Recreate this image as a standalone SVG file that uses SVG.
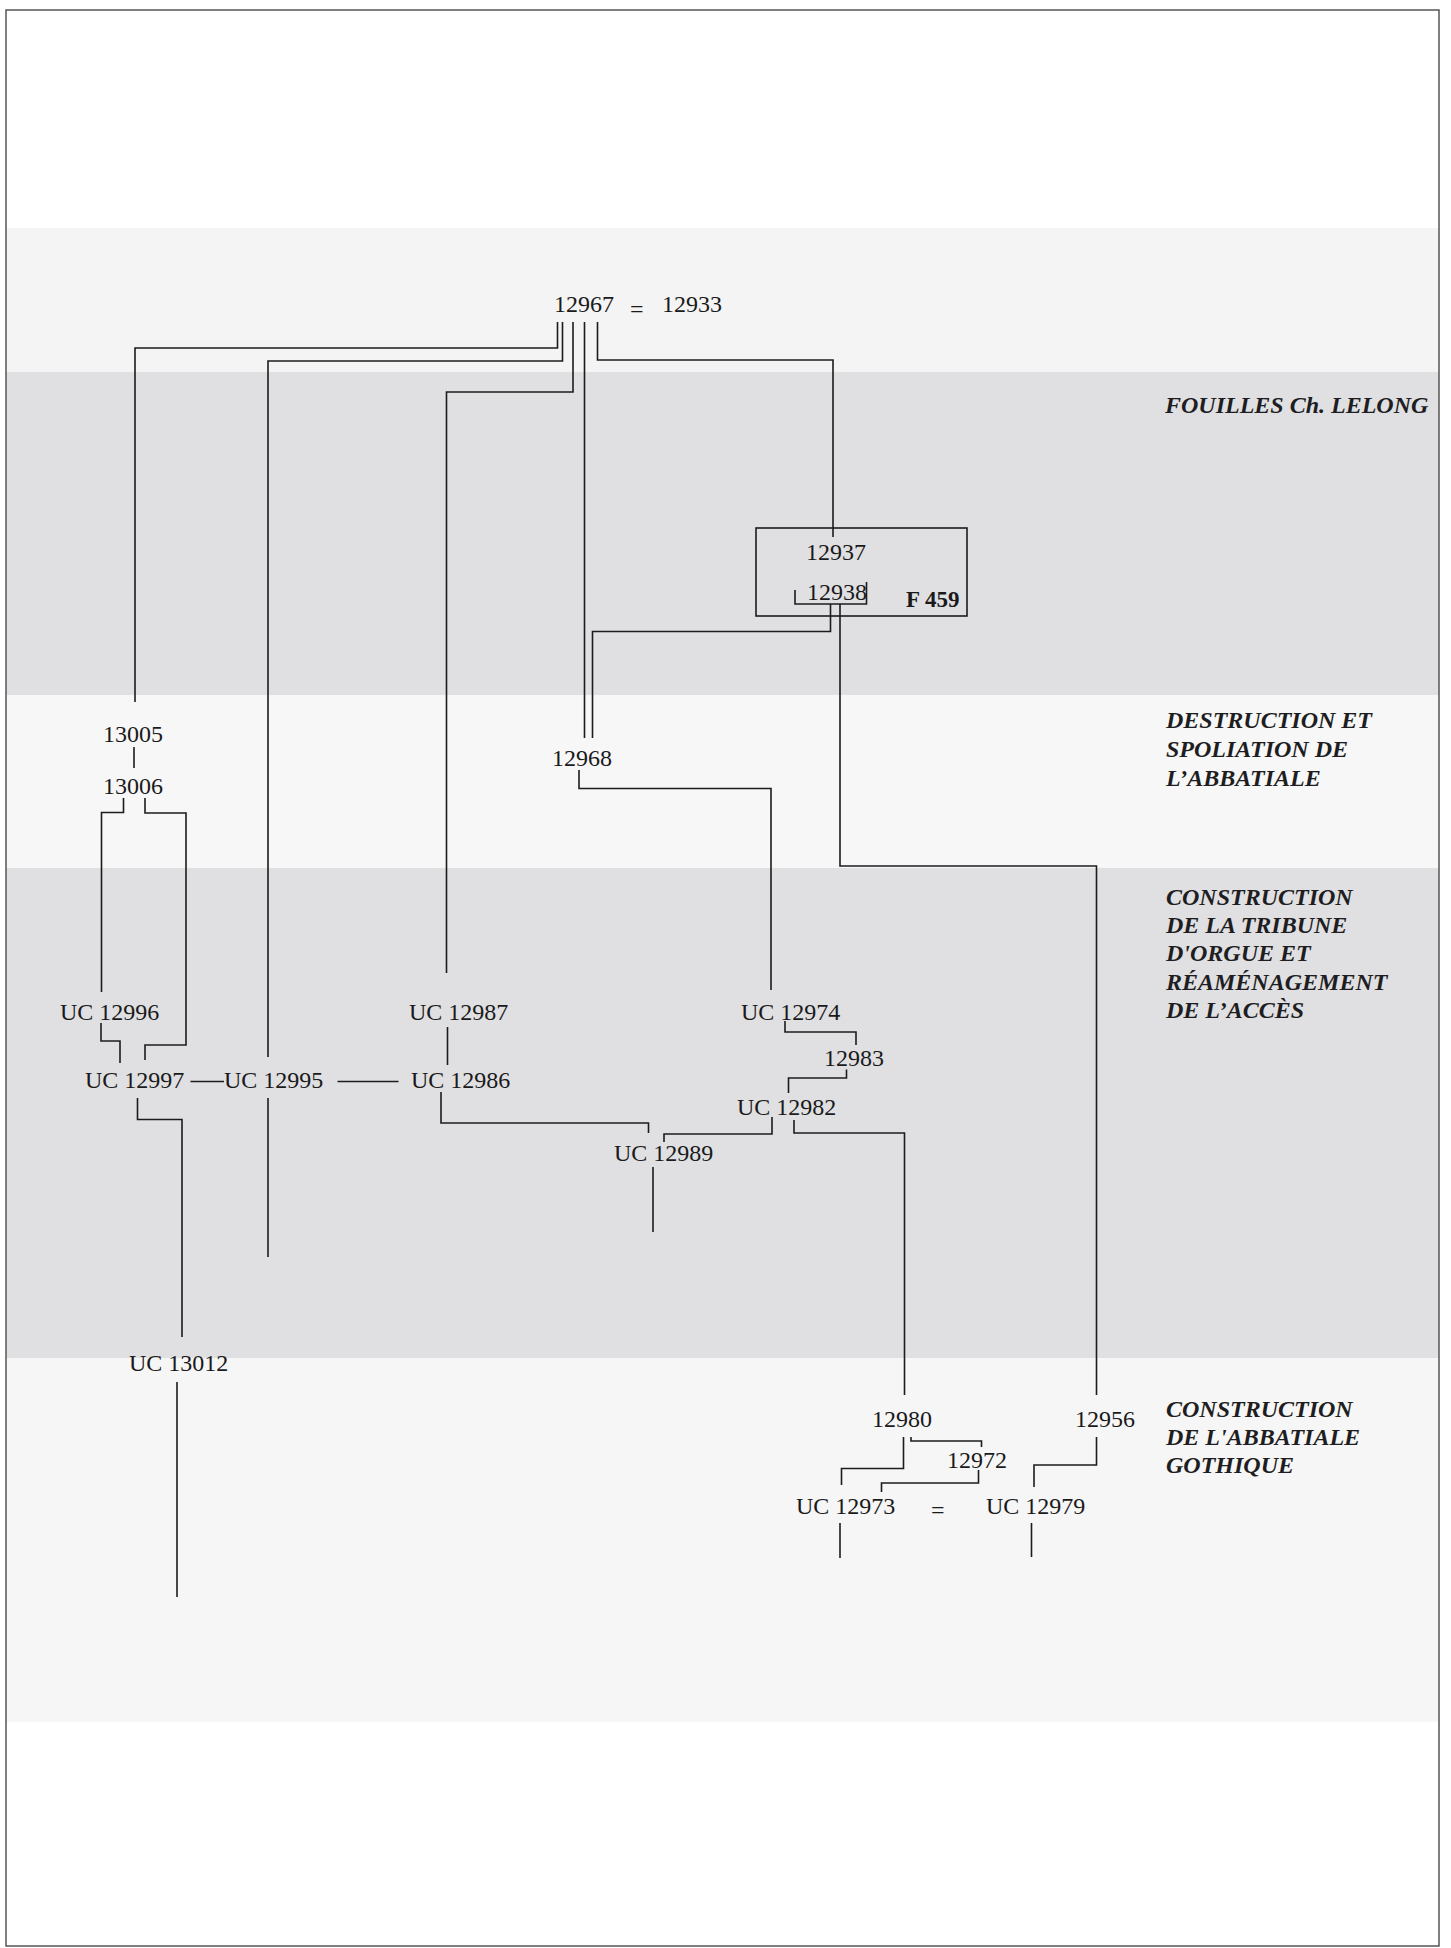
<svg xmlns="http://www.w3.org/2000/svg" width="1451" height="1948" viewBox="0 0 1451 1948">
<style>
.ln{fill:none;stroke:#1c1c1c;stroke-width:1.6}
.t{font-family:"Liberation Serif",serif;font-size:24px;fill:#1a1a1a}
.f{font-family:"Liberation Serif",serif;font-size:23px;font-weight:bold;fill:#1a1a1a}
.lbl{font-family:"Liberation Serif",serif;font-size:24px;font-style:italic;font-weight:bold;fill:#1e1e22}
.box{fill:none;stroke:#1c1c1c;stroke-width:1.6}
</style>
<rect x="0" y="0" width="1451" height="1948" fill="#ffffff"/>
<g id="bands">
<rect x="6" y="228" width="1433" height="144" fill="#f4f4f4"/>
<rect x="6" y="372" width="1433" height="323" fill="#e0e0e2"/>
<rect x="6" y="695" width="1433" height="173" fill="#f7f7f7"/>
<rect x="6" y="868" width="1433" height="490" fill="#e0e0e2"/>
<rect x="6" y="1358" width="1433" height="364" fill="#f6f6f6"/>
</g>
<rect x="6" y="10" width="1433" height="1936" fill="none" stroke="#555" stroke-width="1.5"/>
<g id="connectors">
<path class="ln" d="M557.5,322 V348 H135 V702"/>
<path class="ln" d="M562.5,322 V361 H268 V1057"/>
<path class="ln" d="M268,1098 V1257"/>
<path class="ln" d="M573,322 V392 H446.5 V973"/>
<path class="ln" d="M584.5,322 V738"/>
<path class="ln" d="M597.5,322 V360 H833 V537"/>
<path class="ln" d="M795,590 V604 H866.5 V582"/>
<path class="ln" d="M830.5,604 V631.5 H592.5 V738"/>
<path class="ln" d="M840,604 V866 H1096.5 V1395"/>
<path class="ln" d="M134,747 V768"/>
<path class="ln" d="M123.5,798 V812.5 H101.5 V992"/>
<path class="ln" d="M145,798 V813 H186 V1045 H145 V1060"/>
<path class="ln" d="M101,1023 V1041 H120 V1063"/>
<path class="ln" d="M190.5,1081.5 H224"/>
<path class="ln" d="M337.5,1081.5 H398.5"/>
<path class="ln" d="M447.5,1027 V1065"/>
<path class="ln" d="M137.5,1098 V1119.5 H182 V1337"/>
<path class="ln" d="M177,1382 V1597"/>
<path class="ln" d="M579,770 V788.5 H771 V990"/>
<path class="ln" d="M785,1021 V1032 H856 V1045"/>
<path class="ln" d="M846.5,1069.5 V1078 H788.5 V1093"/>
<path class="ln" d="M772,1117 V1134 H664 V1142"/>
<path class="ln" d="M441,1092 V1123 H648.5 V1133"/>
<path class="ln" d="M653,1167 V1232"/>
<path class="ln" d="M794,1120 V1133 H904.5 V1395"/>
<path class="ln" d="M903.5,1437 V1468.5 H841.5 V1485"/>
<path class="ln" d="M911,1437 V1441 H981.5 V1447"/>
<path class="ln" d="M978.5,1470 V1483 H881.5 V1492"/>
<path class="ln" d="M1096.5,1437 V1465 H1034 V1487"/>
<path class="ln" d="M840,1523 V1558"/>
<path class="ln" d="M1031.5,1523 V1557"/>
</g>
<g id="n12967"><text class="t" x="554" y="312">12967</text></g>
<g id="eq1"><text class="t" x="630" y="317">=</text></g>
<g id="n12933"><text class="t" x="662" y="312">12933</text></g>
<g id="f459">
<rect class="box" x="756" y="528" width="211" height="88"/>
<text class="f" x="906" y="607">F 459</text>
</g>
<g id="n12937"><text class="t" x="806" y="560">12937</text></g>
<g id="n12938"><text class="t" x="807" y="600">12938</text></g>
<g id="n13005"><text class="t" x="103" y="742">13005</text></g>
<g id="n13006"><text class="t" x="103" y="794">13006</text></g>
<g id="n12968"><text class="t" x="552" y="766">12968</text></g>
<g id="n12996"><text class="t" x="60" y="1020">UC 12996</text></g>
<g id="n12987"><text class="t" x="409" y="1020">UC 12987</text></g>
<g id="n12974"><text class="t" x="741" y="1020">UC 12974</text></g>
<g id="n12997"><text class="t" x="85" y="1088">UC 12997</text></g>
<g id="n12995"><text class="t" x="224" y="1088">UC 12995</text></g>
<g id="n12986"><text class="t" x="411" y="1088">UC 12986</text></g>
<g id="n12983"><text class="t" x="824" y="1066">12983</text></g>
<g id="n12982"><text class="t" x="737" y="1115">UC 12982</text></g>
<g id="n12989"><text class="t" x="614" y="1161">UC 12989</text></g>
<g id="n13012"><text class="t" x="129" y="1371">UC 13012</text></g>
<g id="n12980"><text class="t" x="872" y="1427">12980</text></g>
<g id="n12956"><text class="t" x="1075" y="1427">12956</text></g>
<g id="n12972"><text class="t" x="947" y="1468">12972</text></g>
<g id="n12973"><text class="t" x="796" y="1514">UC 12973</text></g>
<g id="eq2"><text class="t" x="931" y="1518">=</text></g>
<g id="n12979"><text class="t" x="986" y="1514">UC 12979</text></g>
<g id="phase1"><text class="lbl" x="1165" y="413">FOUILLES Ch. LELONG</text></g>
<g id="phase2">
<text class="lbl" x="1166" y="728">DESTRUCTION ET</text>
<text class="lbl" x="1166" y="757">SPOLIATION DE</text>
<text class="lbl" x="1166" y="786">L’ABBATIALE</text>
</g>
<g id="phase3">
<text class="lbl" x="1166" y="905">CONSTRUCTION</text>
<text class="lbl" x="1166" y="933">DE LA TRIBUNE</text>
<text class="lbl" x="1166" y="961">D'ORGUE ET</text>
<text class="lbl" x="1166" y="990">RÉAMÉNAGEMENT</text>
<text class="lbl" x="1166" y="1018">DE L’ACCÈS</text>
</g>
<g id="phase4">
<text class="lbl" x="1166" y="1417">CONSTRUCTION</text>
<text class="lbl" x="1166" y="1445">DE L'ABBATIALE</text>
<text class="lbl" x="1166" y="1473">GOTHIQUE</text>
</g>
</svg>
